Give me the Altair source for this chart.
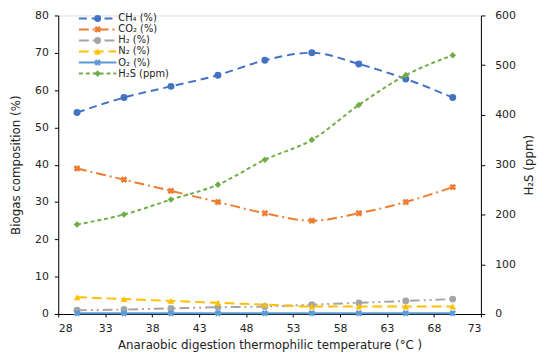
import altair as alt
import pandas as pd

temps = [30, 35, 40, 45, 50, 55, 60, 65, 70]
ch4 = [54, 58, 61, 64, 68, 70, 67, 63, 58]
co2 = [39, 36, 33, 30, 27, 25, 27, 30, 34]
h2 = [1.0, 1.2, 1.5, 1.8, 2.0, 2.5, 3.0, 3.5, 4.0]
n2 = [4.5, 4.0, 3.5, 3.0, 2.5, 2.0, 2.0, 2.0, 2.0]
o2 = [0.2, 0.2, 0.2, 0.2, 0.2, 0.2, 0.2, 0.2, 0.2]
h2s = [180, 200, 230, 260, 310, 350, 420, 480, 520]

names = ["CH₄ (%)", "CO₂ (%)", "H₂ (%)", "N₂ (%)", "O₂ (%)", "H₂S (ppm)"]
colors = ["#4472C4", "#ED7D31", "#A5A5A5", "#FFC000", "#5B9BD5", "#70AD47"]
dashes = [[8, 5], [10, 4, 2, 4], [10, 4, 2, 4, 2, 4], [10, 5], [1, 0], [4, 3]]
shapes = ["circle", "cross", "circle", "triangle-up", "cross", "diamond"]
angles = [0, 45, 0, 0, 45, 0]
sizes = [50, 45, 45, 45, 45, 35]

rows = []
for name, vals in zip(names[:5], [ch4, co2, h2, n2, o2]):
    for t, v in zip(temps, vals):
        rows.append({"series": name, "temp": t, "value": v})
left_df = pd.DataFrame(rows)
right_df = pd.DataFrame({"series": names[5], "temp": temps, "value": h2s})
legend_df = pd.DataFrame({"series": names})

FONT = "DejaVu Sans"
TXT = "#222222"
xscale = alt.Scale(domain=[28, 73], nice=False, zero=False)
xaxis = alt.Axis(values=list(range(28, 74, 5)), title="Anaraobic digestion thermophilic temperature (°C )",
                 grid=False, tickSize=3, labelPadding=6, titlePadding=6, labelFontSize=11,
                 titleFontSize=12, labelColor=TXT, titleColor=TXT, domainColor="black",
                 tickColor="black", titleFontWeight="normal")
cscale = alt.Scale(domain=names, range=colors)
color = alt.Color("series:N", scale=cscale, legend=None)
dash = alt.StrokeDash("series:N", scale=alt.Scale(domain=names, range=dashes), legend=None)
shape = alt.Shape("series:N", scale=alt.Scale(domain=names, range=shapes), legend=None)
size = alt.Size("series:N", scale=alt.Scale(domain=names, range=sizes), legend=None)
angle = alt.Angle("series:N", scale=alt.Scale(type="ordinal", domain=names, range=angles), legend=None)

yleft_scale = alt.Scale(domain=[0, 80], nice=False)
yleft_axis = alt.Axis(values=list(range(0, 81, 10)), title="Biogas composition (%)", grid=False,
                      tickSize=4, labelPadding=6, titlePadding=12, labelFontSize=11,
                      titleFontSize=12, labelColor=TXT, titleColor=TXT, domainColor="black",
                      tickColor="black", titleFontWeight="normal", labelOverlap=False)
yright_scale = alt.Scale(domain=[0, 600], nice=False)
yright_axis = alt.Axis(values=list(range(0, 601, 100)), title="H₂S (ppm)", orient="right", grid=False,
                       tickSize=4, labelPadding=10, titlePadding=20, labelFontSize=11,
                       titleFontSize=12, labelColor=TXT, titleColor=TXT, domainColor="black",
                       tickColor="black", titleAngle=270, titleBaseline="bottom",
                       titleFontWeight="normal", labelOverlap=False)


def series_layers(df, yscale, yaxis):
    base = alt.Chart(df)
    ln = base.mark_line(interpolate="monotone", strokeWidth=2).encode(
        x=alt.X("temp:Q", scale=xscale, axis=xaxis),
        y=alt.Y("value:Q", scale=yscale, axis=yaxis),
        color=color, strokeDash=dash)
    pt = base.mark_point(filled=True, opacity=1).encode(
        x=alt.X("temp:Q", scale=xscale, axis=xaxis),
        y=alt.Y("value:Q", scale=yscale, axis=yaxis),
        color=color, shape=shape, size=size, angle=angle)
    return alt.layer(ln, pt)


left = series_layers(left_df, yleft_scale, yleft_axis)
right = series_layers(right_df, yright_scale, yright_axis)

# legend (drawn as its own small layer, rows placed by a point scale)
ly = alt.Y("series:N", scale=alt.Scale(type="point", domain=names, range=[3, 59], padding=0), axis=None)
lbase = alt.Chart(legend_df)
leg_line = lbase.mark_rule(strokeWidth=2).encode(
    x=alt.value(21), x2=alt.value(59), y=ly, color=color, strokeDash=dash)
leg_pt = lbase.mark_point(filled=True, opacity=1).encode(
    x=alt.value(40), y=ly, color=color, shape=shape, size=size, angle=angle)
leg_txt = lbase.mark_text(align="left", baseline="middle", fontSize=10, color=TXT).encode(
    x=alt.value(61), y=ly, text="series:N")
legend = alt.layer(leg_line, leg_pt, leg_txt)

chart = alt.layer(left, right, legend).resolve_scale(y="independent").properties(
    width=429, height=303, autosize=alt.AutoSizeParams(type="none"),
    padding={"left": 51, "top": 5, "right": 62, "bottom": 36},
    background="white"
).configure_view(stroke="black", strokeWidth=1).configure(font=FONT)

chart.save("out.html", embed_options={"renderer": "svg", "actions": False})
